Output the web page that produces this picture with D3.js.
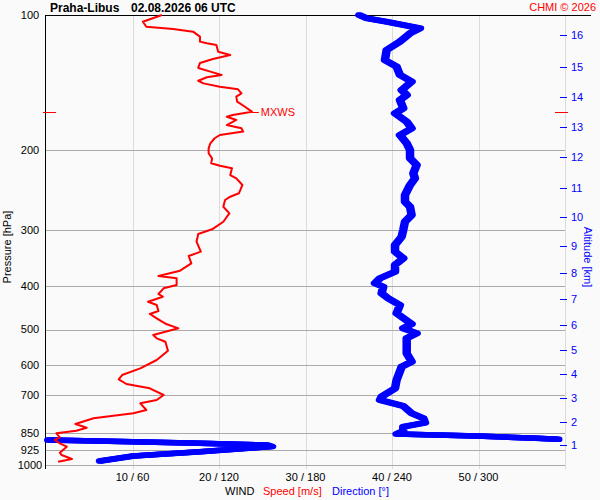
<!DOCTYPE html>
<html>
<head>
<meta charset="utf-8">
<script src="https://cdn.jsdelivr.net/npm/d3@7"></script>
<style>
  html, body { margin: 0; padding: 0; background: #fafafa; }
  svg { display: block; font-family: "Liberation Sans", Arial, sans-serif; }
</style>
</head>
<body>
<svg id="chart" width="600" height="500"></svg>
<script>
// ---------- DATA ----------
const stationName = "Praha-Libus";
const stationTime = "02.08.2026 06 UTC";
const credit = "CHMI \u00a9 2026";

// wind speed profile: pressure [hPa] and speed [m/s]
const speedPressure = [100, 103.5, 106.2, 107.4, 108.9, 111.7, 114.6, 115.6, 116.6, 120.7, 122.7, 125.2, 127.8, 131.1, 133.6, 135.9, 137.5, 140.0, 141.9, 144.3, 146.3, 149.3, 151.9, 155.8, 159.9, 164.0, 166.8, 168.3, 171.1, 175.6, 178.6, 181.6, 184.8, 187.9, 192.8, 197.8, 202.9, 208.2, 213.6, 216.2, 219.1, 226.8, 230.7, 238.7, 249.0, 253.4, 257.7, 266.7, 275.9, 288.0, 299.4, 306.7, 319.0, 335.7, 343.2, 356.3, 370.0, 380.2, 384.7, 398.1, 404.9, 416.9, 422.7, 433.7, 441.1, 454.8, 461.7, 472.1, 486.1, 496.9, 514.2, 523.0, 532.1, 557.2, 584.3, 609.9, 631.0, 645.0, 660.7, 675.4, 698.9, 717.1, 729.3, 754.6, 767.4, 787.3, 810.8, 826.3, 839.0, 850.3, 867.8, 879.9, 895.0, 910.7, 939.0, 950.2, 969.7, 983.4];
const speedValue = [13.4, 11.2, 11.6, 14.7, 17.0, 17.8, 17.8, 18.6, 19.7, 19.9, 21.3, 19.3, 17.8, 17.6, 19.0, 20.3, 18.6, 17.6, 18.2, 20.1, 22.2, 22.6, 22.0, 22.1, 23.0, 23.8, 21.6, 20.9, 22.0, 20.9, 22.6, 22.8, 20.1, 19.5, 19.0, 18.8, 18.8, 19.2, 19.1, 20.1, 21.5, 21.3, 22.0, 22.7, 22.3, 21.3, 20.7, 20.5, 21.2, 20.5, 19.2, 17.6, 17.4, 17.9, 16.5, 16.8, 15.5, 13.0, 15.1, 15.1, 13.6, 13.0, 13.5, 11.8, 12.8, 13.0, 12.0, 12.8, 13.9, 15.3, 12.4, 12.8, 13.8, 14.1, 12.8, 10.9, 8.8, 8.4, 9.3, 12.0, 13.6, 12.8, 10.9, 11.6, 10.1, 5.5, 3.4, 4.7, 3.5, 1.2, 1.6, 1.0, 1.6, 2.4, 1.6, 1.8, 3.0, 1.4];

// wind direction profile: pressure [hPa] and direction [deg]
const dirPressure = [100, 101.7, 103.5, 107.0, 109.8, 114.6, 119.6, 125.9, 130.3, 135.9, 140.7, 146.8, 150.6, 154.5, 161.2, 165.4, 172.6, 178.6, 184.8, 192.8, 199.5, 208.2, 215.4, 224.8, 230.7, 238.7, 251.2, 260.0, 266.7, 278.3, 288.0, 300.5, 311.0, 324.4, 335.7, 347.2, 359.3, 371.9, 384.7, 394.7, 401.7, 415.4, 426.2, 441.1, 460.1, 486.1, 496.9, 509.7, 523.0, 564.6, 589.4, 604.7, 647.6, 675.4, 705.0, 717.1, 739.5, 767.4, 787.3, 805.4, 822.1, 840.3, 853.3, 862.1, 872.4, 876.8, 879.9, 887.7, 895.0, 902.7, 909.9, 934.1, 955.0, 979.7];
const dirValue = [217.3, 222.4, 236.3, 259.4, 252.5, 245.5, 236.3, 235.1, 243.2, 245.5, 253.6, 246.7, 250.2, 245.5, 247.8, 242.1, 250.2, 253.6, 245.5, 250.2, 252.5, 252.5, 257.1, 254.8, 255.9, 252.5, 249.0, 249.0, 252.5, 253.6, 249.0, 247.8, 246.7, 242.1, 242.1, 247.8, 242.1, 242.1, 231.7, 228.2, 233.9, 232.8, 237.4, 245.5, 243.2, 253.6, 247.8, 257.1, 250.2, 250.2, 253.6, 246.7, 243.2, 242.1, 232.8, 231.7, 247.8, 253.6, 261.7, 262.9, 247.8, 247.8, 243.2, 298.7, 340.3, 355.3, 1.6, 60.3, 106.8, 153.1, 156.8, 106.8, 60.6, 37.5];

// axes
const pressureLabels = [100, 200, 300, 400, 500, 600, 700, 850, 925, 1000];
const pressureGrid = [200, 300, 400, 500, 600, 700, 850, 925, 1000];
const speedTicks = [10, 20, 30, 40, 50];
const dirTicks = [60, 120, 180, 240, 300];
const altitudeKm = [1, 2, 3, 4, 5, 6, 7, 8, 9, 10, 11, 12, 13, 14, 15, 16];
const altitudePressure = [904.1, 804.0, 710.8, 627.8, 555.3, 488.6, 428.3, 375.0, 326.6, 281.6, 242.7, 207.1, 177.6, 152.1, 130.5, 110.8];

// ---------- DRAW ----------
const svg = d3.select("#chart");
const x = d3.scaleLinear().domain([0, 60]).range([46, 565]);
const xDir = d3.scaleLinear().domain([0, 360]).range([46, 565]);
const y = d3.scaleLog().domain([100, 1000]).range([15, 465]);
const RED = "#ff0000", BLUE = "#0000ff";

// vertical grid
svg.append("g").selectAll("line").data(speedTicks.concat([60])).join("line")
  .attr("x1", d => Math.round(x(d)) + 0.5).attr("x2", d => Math.round(x(d)) + 0.5)
  .attr("y1", 15).attr("y2", 469)
  .attr("stroke", "#dcdcdc").attr("stroke-width", 1);

// horizontal grid
svg.append("g").selectAll("line").data(pressureGrid).join("line")
  .attr("x1", 45).attr("x2", 565)
  .attr("y1", d => Math.round(y(d)) + 0.5).attr("y2", d => Math.round(y(d)) + 0.5)
  .attr("stroke", "#aaaaaa").attr("stroke-width", 1);

// top line and left axis
svg.append("line").attr("x1", 45).attr("x2", 591).attr("y1", 15.5).attr("y2", 15.5)
  .attr("stroke", "#000").attr("stroke-width", 1);
svg.append("line").attr("x1", 45.5).attr("x2", 45.5).attr("y1", 15).attr("y2", 469)
  .attr("stroke", "#000").attr("stroke-width", 1);

// pressure labels
svg.append("g").selectAll("text").data(pressureLabels).join("text")
  .attr("x", 30).attr("y", d => y(d)).attr("dy", "0.35em")
  .attr("text-anchor", "middle").attr("font-size", 11).attr("fill", "#000")
  .text(d => d);

svg.append("text").attr("transform", "translate(11,247) rotate(-90)")
  .attr("text-anchor", "middle").attr("font-size", 11).attr("fill", "#000")
  .text("Pressure [hPa]");

// bottom tick labels
svg.append("g").selectAll("text").data(speedTicks).join("text")
  .attr("x", d => x(d)).attr("y", 481)
  .attr("text-anchor", "middle").attr("font-size", 11).attr("fill", "#000")
  .text((d, i) => d + " / " + dirTicks[i]);

// bottom legend
svg.append("text").attr("x", 225).attr("y", 495).attr("font-size", 11).attr("fill", "#000").text("WIND");
svg.append("text").attr("x", 263).attr("y", 495).attr("font-size", 11).attr("fill", RED).text("Speed [m/s]");
svg.append("text").attr("x", 332).attr("y", 495).attr("font-size", 11).attr("fill", BLUE).text("Direction [\u00b0]");

// altitude axis
const alt = svg.append("g");
alt.selectAll("line").data(altitudePressure).join("line")
  .attr("x1", 560).attr("x2", 567)
  .attr("y1", d => Math.round(y(d)) + 0.5).attr("y2", d => Math.round(y(d)) + 0.5)
  .attr("stroke", BLUE).attr("stroke-width", 1);
alt.selectAll("text").data(altitudeKm).join("text")
  .attr("x", 571).attr("y", (d, i) => y(altitudePressure[i])).attr("dy", "0.35em")
  .attr("font-size", 11).attr("fill", BLUE).text(d => d);
svg.append("text").attr("transform", "translate(584,257) rotate(90)")
  .attr("text-anchor", "middle").attr("font-size", 11).attr("fill", BLUE)
  .text("Altitude [km]");

// title
svg.append("text").attr("x", 50).attr("y", 12).attr("font-size", 12).attr("font-weight", "bold").text(stationName);
svg.append("text").attr("x", 131).attr("y", 12).attr("font-size", 12).attr("font-weight", "bold").text(stationTime);
svg.append("text").attr("x", 596).attr("y", 11).attr("text-anchor", "end").attr("font-size", 11).attr("fill", RED).text(credit);

// direction line (split at 0/360 wrap); broad pen: drawn with small horizontal offsets
const dirPts = dirPressure.map((p, i) => ({ p, v: dirValue[i] }));
const segs = [];
let cur = [];
dirPts.forEach((d, i) => {
  if (i > 0 && Math.abs(d.v - dirPts[i - 1].v) > 180) { segs.push(cur); cur = []; }
  cur.push(d);
});
segs.push(cur);
const dirLine = d3.line().x(d => xDir(d.v)).y(d => y(d.p));
const penOffsets = [-1.5, 0, 1.5];
penOffsets.forEach(off => {
  svg.append("g").attr("transform", `translate(${off},0)`)
    .selectAll("path").data(segs).join("path")
    .attr("d", dirLine).attr("fill", "none").attr("stroke", BLUE)
    .attr("stroke-width", 5.5).attr("stroke-linecap", "round").attr("stroke-linejoin", "round");
});

// speed line
const spdPts = speedPressure.map((p, i) => ({ p, v: speedValue[i] }));
const spdLine = d3.line().x(d => x(d.v)).y(d => y(d.p));
svg.append("path").datum(spdPts).attr("d", spdLine)
  .attr("fill", "none").attr("stroke", RED).attr("stroke-width", 2).attr("stroke-linejoin", "round");

// max wind marker
const maxIdx = d3.maxIndex(speedValue);
const pMax = speedPressure[maxIdx];
const yMax = Math.round(y(pMax)) + 0.5;
svg.append("line").attr("x1", x(speedValue[maxIdx])).attr("x2", x(speedValue[maxIdx]) + 7)
  .attr("y1", yMax).attr("y2", yMax).attr("stroke", RED).attr("stroke-width", 1);
svg.append("line").attr("x1", 43).attr("x2", 56).attr("y1", yMax).attr("y2", yMax).attr("stroke", RED);
svg.append("line").attr("x1", 555).attr("x2", 568).attr("y1", yMax).attr("y2", yMax).attr("stroke", RED);
svg.append("text").attr("x", x(speedValue[maxIdx]) + 9).attr("y", yMax).attr("dy", "0.35em")
  .attr("font-size", 11).attr("fill", RED).text("MXWS");
</script>
</body>
</html>
